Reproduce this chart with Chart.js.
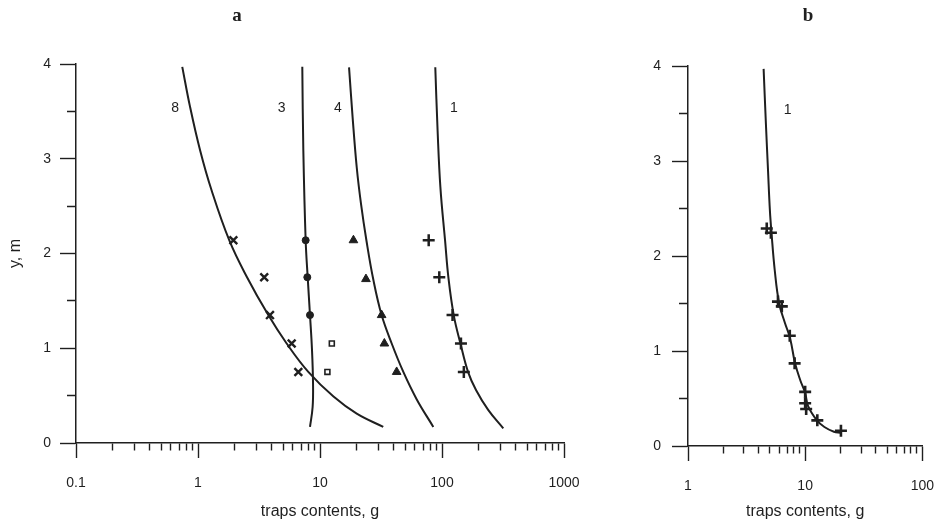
<!DOCTYPE html>
<html><head><meta charset="utf-8">
<script src="https://cdn.jsdelivr.net/npm/chart.js@4.4.0/dist/chart.umd.min.js"></script>
<style>
html,body{margin:0;padding:0;background:#fff;}
#wrap{position:relative;width:951px;height:522px;overflow:hidden;background:#fff}
#ca{position:absolute;left:0;top:0;}
#cb{position:absolute;left:620px;top:0;}
</style></head><body>
<div id="wrap">
<canvas id="ca" width="620" height="522"></canvas>
<canvas id="cb" width="331" height="522"></canvas>
</div>
<script>
// ---------- tick labels ----------
const xTicksA = [0.1, 1, 10, 100, 1000];
const xTicksB = [1, 10, 100];
const yTicks = [0, 1, 2, 3, 4];
const panelTitles = ['a', 'b'];
const xTitle = 'traps contents, g';
const yTitle = 'y, m';
const curveLabelsA = ['8', '3', '4', '1'];
const curveLabelsAX = [0.65, 4.85, 14, 125];
const curveLabelsAY = [3.53, 3.53, 3.53, 3.53];
const curveLabelsB = ['1'];
const curveLabelsBX = [7.1];
const curveLabelsBY = [3.54];

// ---------- panel a: fitted curves ----------
const curve8X = [0.743, 0.86, 1.04, 1.29, 1.81, 2.51, 3.77, 5.33, 8.02, 12.9, 20, 33];
const curve8Y = [3.97, 3.55, 3.09, 2.67, 2.135, 1.755, 1.35, 1.05, 0.75, 0.49, 0.31, 0.17];
const curve3X = [7.16, 7.3, 7.63, 7.93, 8.28, 8.6, 8.77, 8.7, 8.28];
const curve3Y = [3.97, 3.09, 2.135, 1.745, 1.35, 0.98, 0.62, 0.38, 0.17];
const curve4X = [17.3, 18.5, 20.0, 21.7, 24.0, 27.4, 32, 38.7, 48.2, 62.1, 84.9];
const curve4Y = [3.965, 3.44, 2.91, 2.52, 2.14, 1.72, 1.35, 1.05, 0.75, 0.46, 0.17];
const curve1X = [88.1, 92, 97, 106, 113, 125, 142, 164, 190, 239, 318];
const curve1Y = [3.965, 3.3, 2.7, 2.135, 1.74, 1.345, 1.045, 0.746, 0.56, 0.35, 0.155];

// ---------- panel a: measured points ----------
const pts8X = [1.95, 3.49, 3.89, 5.86, 6.64];
const pts8Y = [2.14, 1.75, 1.35, 1.05, 0.75];
const pts3X = [7.63, 7.87, 8.28];
const pts3Y = [2.14, 1.75, 1.35];
const pts3oX = [12.5, 11.5];
const pts3oY = [1.05, 0.75];
const pts4X = [18.8, 23.8, 32, 33.7, 42.5];
const pts4Y = [2.14, 1.73, 1.35, 1.05, 0.75];
const pts1X = [77.8, 95, 122, 143, 151];
const pts1Y = [2.14, 1.75, 1.35, 1.05, 0.75];

// ---------- panel b ----------
const curveBX = [4.42, 4.62, 4.82, 5.0, 5.16, 5.5, 6.0, 6.7, 7.45, 8.2, 9.1, 10.0, 10.6, 12.6, 14.6, 17.6, 20];
const curveBY = [3.97, 3.4, 2.9, 2.48, 2.245, 1.85, 1.5, 1.3, 1.13, 0.87, 0.69, 0.56, 0.42, 0.27, 0.2, 0.15, 0.14];
const ptsBX = [4.7, 5.1, 5.86, 6.32, 7.39, 8.13, 10.0, 10.0, 10.2, 12.7, 20.2];
const ptsBY = [2.29, 2.245, 1.52, 1.47, 1.16, 0.87, 0.57, 0.45, 0.39, 0.27, 0.16];

// ---------- helpers ----------
const INK = '#1f1f1f';
const FONT = '"Liberation Sans", Arial, sans-serif';
const zip = (xs, ys) => xs.map((x, i) => ({x: x, y: ys[i]}));
function logTickValues(decades) {
  const t = [];
  for (let i = 0; i < decades.length; i++) {
    const d = decades[i];
    t.push(d);
    if (i < decades.length - 1) for (let m = 2; m <= 9; m++) t.push(+(m * d).toPrecision(6));
  }
  return t;
}
function isIn(v, arr) { return arr.some(m => Math.abs(m - v) < 1e-9 * Math.max(1, Math.abs(m))); }
function yTickValues() {
  const t = [];
  for (let i = 0; i < yTicks.length; i++) {
    t.push(yTicks[i]);
    if (i < yTicks.length - 1) t.push((yTicks[i] + yTicks[i + 1]) / 2);
  }
  return t;
}

function lineDs(xs, ys) {
  return {data: zip(xs, ys), showLine: true, pointRadius: 0, borderColor: INK, borderWidth: 2,
          tension: 0.4, fill: false, clip: false};
}
function markDs(xs, ys, style, r, bw, bg) {
  return {data: zip(xs, ys), showLine: false, pointStyle: style, pointRadius: r, borderWidth: bw,
          borderColor: INK, backgroundColor: bg || INK, clip: false};
}

const annotPlugin = {
  id: 'annot',
  afterDatasetsDraw(chart, args, o) {
    const {ctx} = chart;
    const xs = chart.scales.x, ys = chart.scales.y;
    ctx.save();
    ctx.fillStyle = INK;
    ctx.textAlign = 'center';
    ctx.textBaseline = 'middle';
    ctx.font = '14px ' + FONT;
    o.labels.forEach((t, i) => ctx.fillText(t, xs.getPixelForValue(o.lx[i]), ys.getPixelForValue(o.ly[i])));
    ctx.font = 'bold 19px "Liberation Serif", serif';
    ctx.fillText(o.title, o.tx, o.ty);
    ctx.restore();
  }
};

function makeChart(id, cfg) {
  return new Chart(document.getElementById(id), {
    type: 'scatter',
    data: {datasets: cfg.datasets},
    plugins: [annotPlugin],
    options: {
      responsive: false, animation: false, devicePixelRatio: 1,
      layout: {padding: cfg.padding},
      plugins: {
        legend: {display: false}, tooltip: {enabled: false},
        annot: {labels: cfg.labels, lx: cfg.lx, ly: cfg.ly, title: cfg.title, tx: cfg.tx, ty: cfg.ty}
      },
      scales: {
        x: {
          type: 'logarithmic', position: 'bottom',
          min: cfg.xTicks[0], max: cfg.xTicks[cfg.xTicks.length - 1],
          afterBuildTicks: s => { s.ticks = logTickValues(cfg.xTicks).map(v => ({value: v})); },
          afterFit: s => { s.height = cfg.xH; },
          ticks: {autoSkip: false, maxRotation: 0, minRotation: 0, padding: 17, color: INK,
                  font: {family: FONT, size: 14},
                  callback: v => isIn(v, cfg.xTicks) ? String(v) : ''},
          grid: {drawOnChartArea: false, drawTicks: true, tickLength: 15, tickWidth: 1.4, tickColor: INK,
                 tickBorderDash: c => (c.tick && isIn(c.tick.value, cfg.xTicks)) ? [] : [7, 100]},
          border: {display: true, color: INK, width: 1.5},
          title: {display: true, text: xTitle, color: INK, font: {family: FONT, size: 16},
                  padding: {top: 0, bottom: 1}}
        },
        y: {
          type: 'linear', position: 'left', min: yTicks[0], max: yTicks[yTicks.length - 1],
          afterBuildTicks: s => { s.ticks = yTickValues().map(v => ({value: v})); },
          afterFit: s => { s.width = cfg.yW; },
          ticks: {padding: cfg.yPad, color: INK, font: {family: FONT, size: 14},
                  callback: v => isIn(v, yTicks) ? String(v) : ''},
          grid: {drawOnChartArea: false, drawTicks: true, tickLength: 16, tickWidth: 1.4, tickColor: INK,
                 tickBorderDash: c => (c.tick && isIn(c.tick.value, yTicks)) ? [] : [0, 7, 9, 100]},
          border: {display: true, color: INK, width: 1.5},
          title: {display: cfg.yTitle, text: yTitle, color: INK, font: {family: FONT, size: 16},
                  padding: {top: 6, bottom: 0}}
        }
      }
    }
  });
}

makeChart('ca', {
  datasets: [
    markDs(pts8X, pts8Y, 'crossRot', 5.5, 2.4),
    markDs(pts3X, pts3Y, 'circle', 3.5, 1),
    markDs(pts3oX, pts3oY, 'rect', 3.5, 1.6, '#fff'),
    markDs(pts4X, pts4Y, 'triangle', 5, 1),
    markDs(pts1X, pts1Y, 'cross', 6, 2.5),
    lineDs(curve8X, curve8Y),
    lineDs(curve3X, curve3Y),
    lineDs(curve4X, curve4Y),
    lineDs(curve1X, curve1Y)
  ],
  xTicks: xTicksA, padding: {left: 0, top: 64, right: 56, bottom: 0},
  xH: 79, yW: 76, yPad: 9, yTitle: true,
  labels: curveLabelsA, lx: curveLabelsAX, ly: curveLabelsAY,
  title: panelTitles[0], tx: 237, ty: 16
});

makeChart('cb', {
  datasets: [
    markDs(ptsBX, ptsBY, 'cross', 6, 2.6),
    lineDs(curveBX, curveBY)
  ],
  xTicks: xTicksB, padding: {left: 0, top: 66, right: 19, bottom: 0},
  xH: 76, yW: 68, yPad: 11, yTitle: false,
  labels: curveLabelsB, lx: curveLabelsBX, ly: curveLabelsBY,
  title: panelTitles[1], tx: 188, ty: 16
});
</script>
</body></html>
